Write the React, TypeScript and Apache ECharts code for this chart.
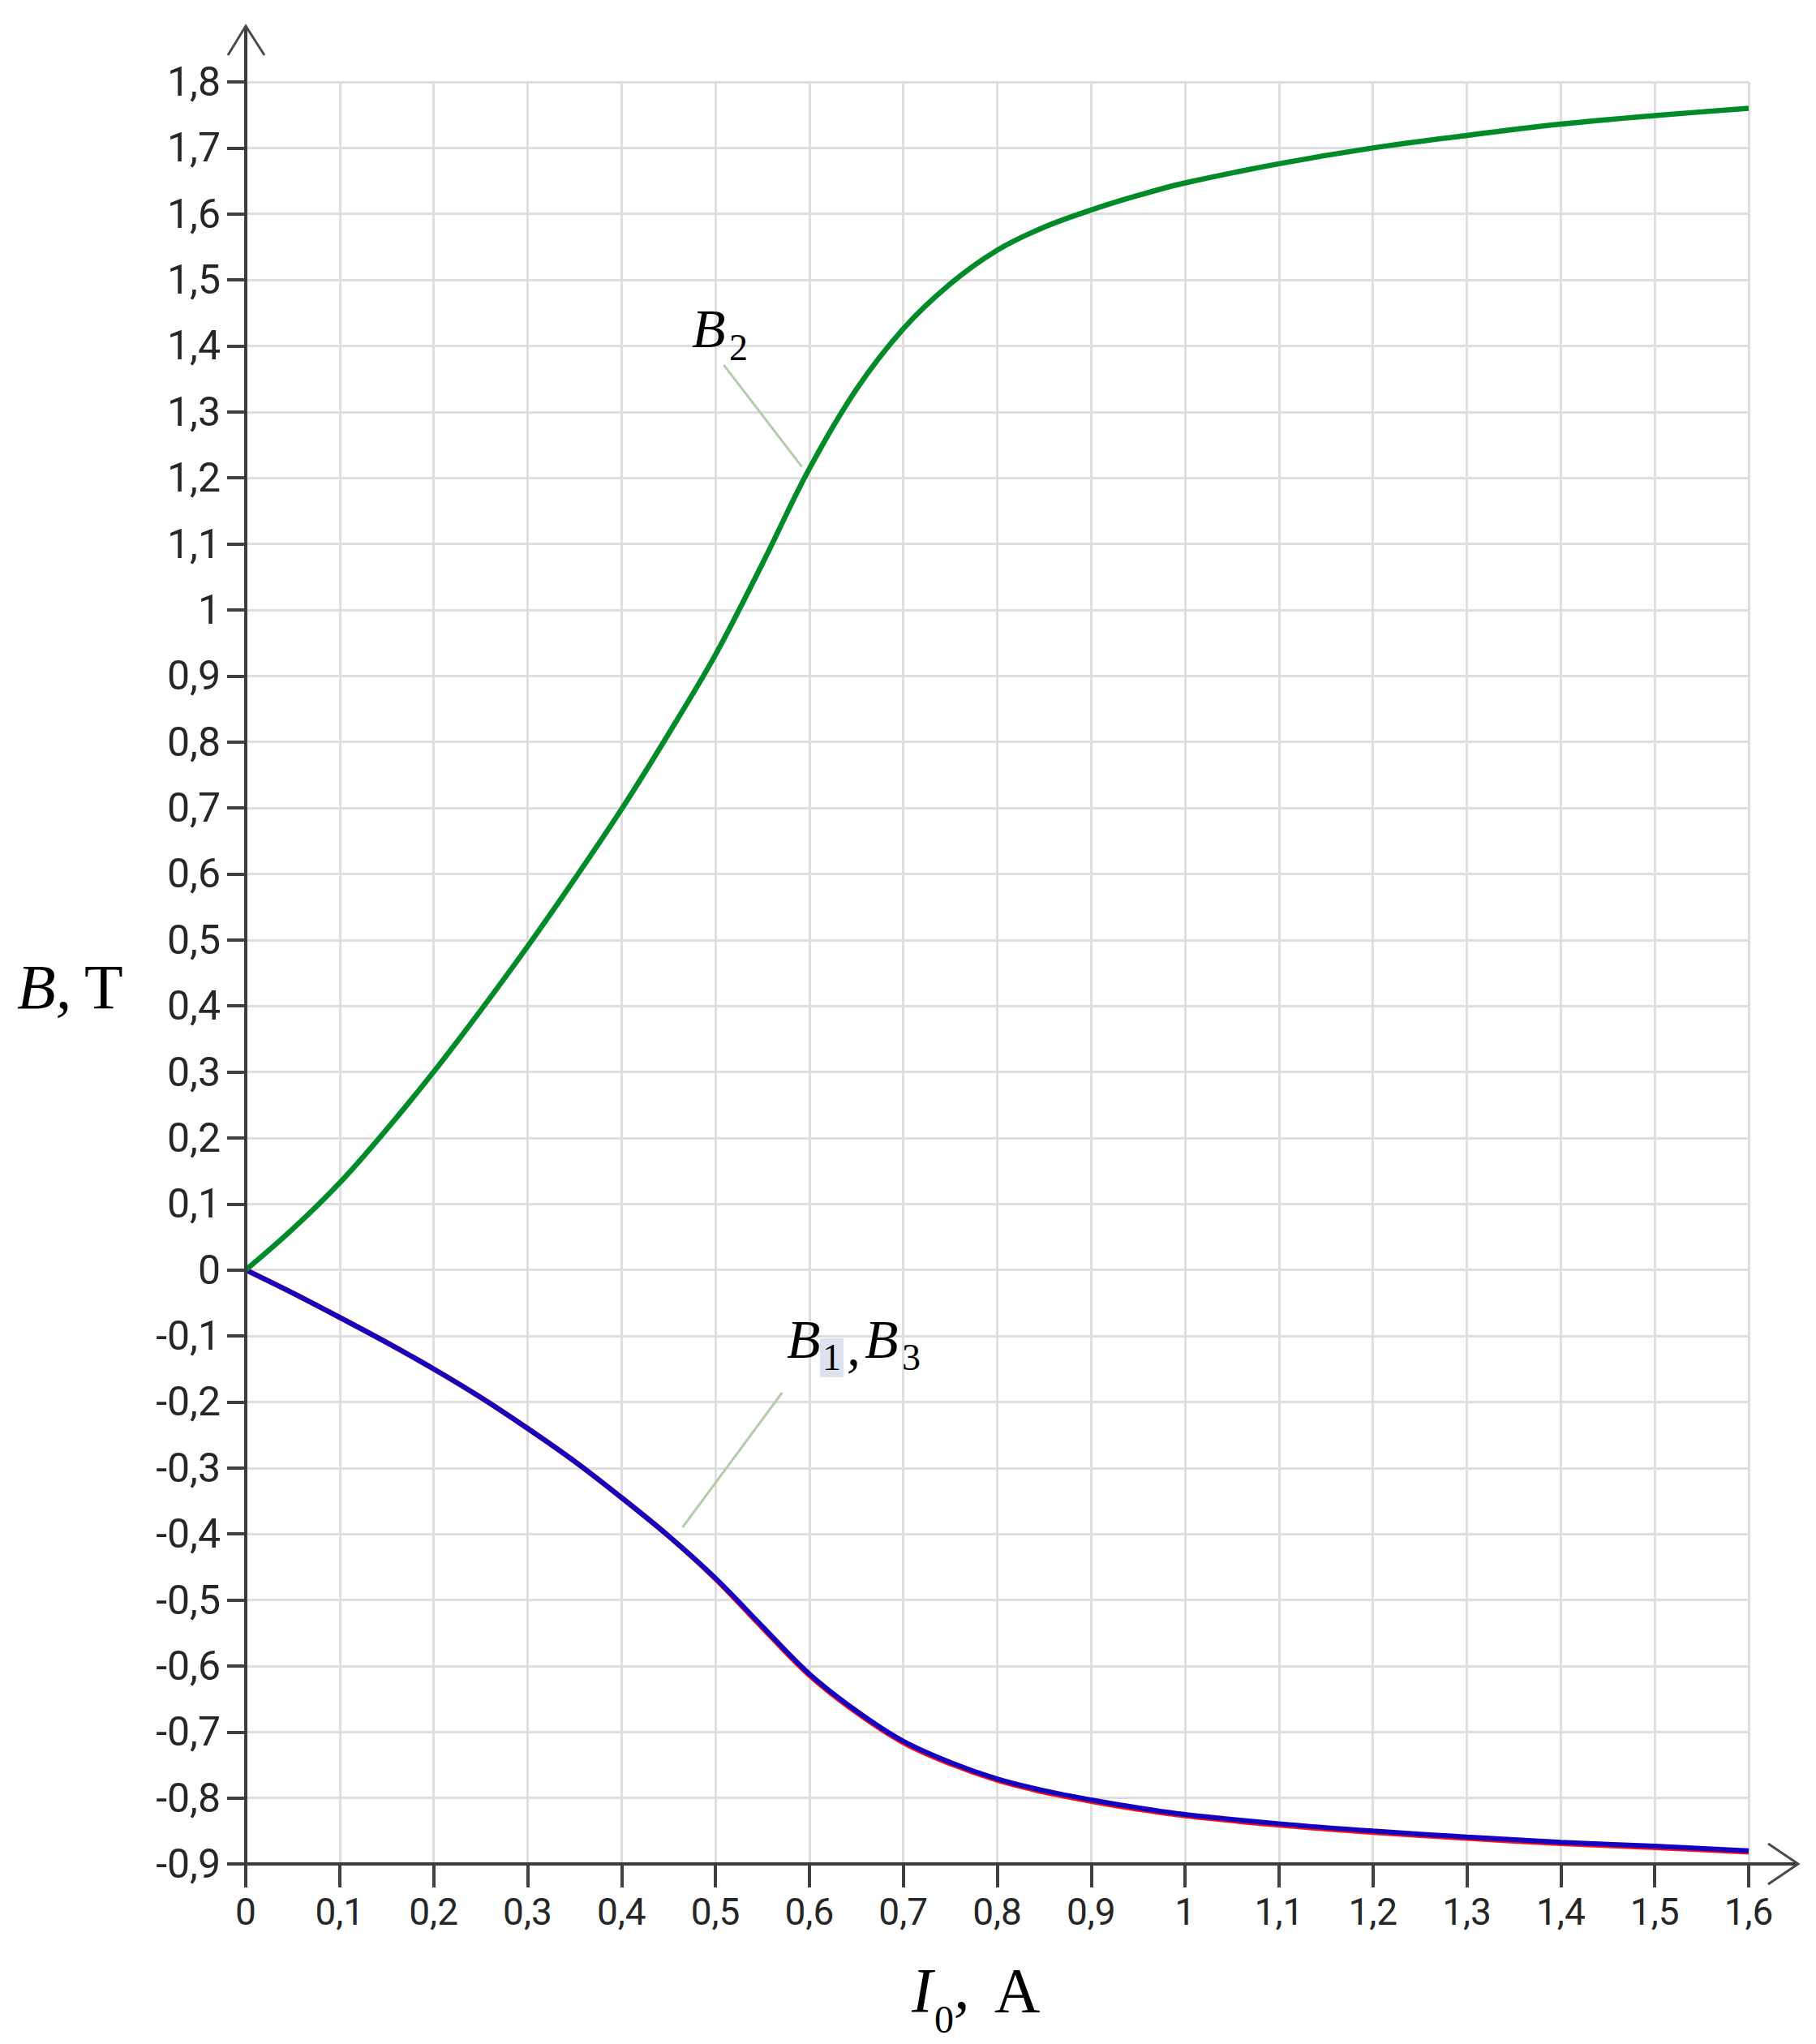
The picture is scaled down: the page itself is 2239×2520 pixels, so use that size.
import React, { useEffect, useRef } from "react";
import * as echarts from "echarts";

// Current I0, A
const currentA = [0, 0.05, 0.1, 0.15, 0.2, 0.25, 0.3, 0.35, 0.4, 0.45, 0.5, 0.55, 0.6, 0.65, 0.7, 0.75, 0.8, 0.85, 0.9, 0.95, 1.0, 1.1, 1.2, 1.3, 1.4, 1.5, 1.6];
// B2, T (green)
const b2Values = [0, 0.062, 0.132, 0.213, 0.3, 0.393, 0.49, 0.592, 0.698, 0.812, 0.932, 1.07, 1.214, 1.334, 1.426, 1.494, 1.545, 1.58, 1.606, 1.628, 1.647, 1.676, 1.7, 1.719, 1.736, 1.749, 1.76];
// B1, T (blue)
const b1Values = [0, -0.035, -0.072, -0.11, -0.15, -0.193, -0.24, -0.29, -0.345, -0.403, -0.467, -0.54, -0.612, -0.668, -0.714, -0.746, -0.771, -0.789, -0.803, -0.815, -0.825, -0.839, -0.85, -0.859, -0.867, -0.873, -0.88];
// B3, T (red)
const b3Values = [0, -0.035, -0.072, -0.11, -0.15, -0.193, -0.24, -0.29, -0.345, -0.403, -0.468, -0.542, -0.614, -0.670, -0.716, -0.748, -0.773, -0.791, -0.805, -0.817, -0.827, -0.841, -0.852, -0.861, -0.869, -0.875, -0.882];

const xMin = 0, xMax = 1.6, xStep = 0.1;
const yMin = -0.9, yMax = 1.8, yStep = 0.1;

const fmt = (v: number) => {
  const r = Math.round(v * 10) / 10;
  return String(r).replace(".", ",");
};

const pairs = (ys: number[]) => currentA.map((x, i) => [x, ys[i]]);

export default function App() {
  const ref = useRef<HTMLDivElement>(null);
  useEffect(() => {
    if (!ref.current) return;
    const chart = echarts.init(ref.current, undefined, { renderer: "svg" });
    const labelFont = "Roboto";
    const option: any = {
      animation: false,
      backgroundColor: "#ffffff",
      grid: { left: 303, right: 83, top: 101, bottom: 222, containLabel: false },
      xAxis: {
        type: "value",
        min: xMin,
        max: xMax,
        interval: xStep,
        axisLine: { show: false, onZero: false },
        axisTick: { show: true, length: 29, lineStyle: { color: "#404040", width: 4 } },
        axisLabel: {
          show: true,
          showMinLabel: true,
          showMaxLabel: true,
          margin: 36,
          formatter: fmt,
          fontFamily: labelFont,
          fontSize: 46,
          color: "#262626",
        },
        splitLine: { show: true, lineStyle: { color: "#dedede", width: 3 } },
      },
      yAxis: {
        type: "value",
        min: yMin,
        max: yMax,
        interval: yStep,
        axisLine: { show: false, onZero: false },
        axisTick: { show: true, length: 23, lineStyle: { color: "#404040", width: 4 } },
        axisLabel: {
          show: true,
          showMinLabel: true,
          showMaxLabel: true,
          margin: 31,
          formatter: fmt,
          fontFamily: labelFont,
          fontSize: 50,
          color: "#262626",
        },
        splitLine: { show: true, lineStyle: { color: "#dedede", width: 3 } },
      },
      series: [
        {
          name: "B3",
          type: "line",
          data: pairs(b3Values),
          smooth: 0.35,
          symbol: "none",
          lineStyle: { color: "#ff1010", width: 6.5 },
          z: 3,
        },
        {
          name: "B1",
          type: "line",
          data: pairs(b1Values),
          smooth: 0.35,
          symbol: "none",
          lineStyle: { color: "#1400c0", width: 6 },
          z: 4,
        },
        {
          name: "B2",
          type: "line",
          data: pairs(b2Values),
          smooth: 0.35,
          symbol: "none",
          lineStyle: { color: "#008a28", width: 6.5 },
          z: 5,
        },
      ],
    };
    chart.setOption(option);

    const p = (x: number, y: number) => chart.convertToPixel({ gridIndex: 0 }, [x, y]) as number[];
    const o = p(xMin, yMin);
    const xe = p(xMax, yMin);
    const yt = p(xMin, yMax);
    const axisColor = "#3c3c3c";
    const ax = { stroke: axisColor, lineWidth: 4 };
    const arw = { stroke: "#4a4a4a", lineWidth: 3 };
    const xTip = xe[0] + 61;
    const yTip = yt[1] - 69;

    const b2a = p(0.509, 1.371);
    const b2b = p(0.592, 1.217);
    const b1a = p(0.571, -0.186);
    const b1b = p(0.465, -0.39);

    const serif = "Liberation Serif";
    const txt = (text: string, x: number, y: number, size: number, italic: boolean, extra: any = {}) => ({
      type: "text",
      x,
      y,
      z: 20,
      style: {
        text,
        fontFamily: serif,
        fontSize: size,
        fontStyle: italic ? "italic" : "normal",
        fill: "#000000",
        align: "left",
        verticalAlign: "middle",
        ...extra,
      },
    });

    chart.setOption({
      graphic: [
        // axes
        { type: "line", z: 10, shape: { x1: o[0] - 23, y1: o[1], x2: xTip, y2: o[1] }, style: ax },
        { type: "line", z: 10, shape: { x1: o[0], y1: o[1] + 29, x2: o[0], y2: yTip }, style: ax },
        // arrows
        { type: "polyline", z: 10, shape: { points: [[xTip - 37, o[1] - 25], [xTip, o[1]], [xTip - 37, o[1] + 25]] }, style: { ...arw, fill: "none" } },
        { type: "polyline", z: 10, shape: { points: [[o[0] - 22, yTip + 36], [o[0], yTip], [o[0] + 23, yTip + 36]] }, style: { ...arw, fill: "none" } },
        // axis titles
        txt("B,", 21, 1216, 78, true),
        txt("T", 104, 1216, 78, false),
        txt("I", 1124, 2453, 78, true),
        txt("0", 1152, 2489, 48, false),
        txt(",", 1176, 2449, 78, true),
        txt("A", 1226, 2453, 78, false),
        // leaders
        { type: "line", z: 8, shape: { x1: b2a[0], y1: b2a[1], x2: b2b[0], y2: b2b[1] }, style: { stroke: "#b3ccaa", lineWidth: 3 } },
        { type: "line", z: 8, shape: { x1: b1a[0], y1: b1a[1], x2: b1b[0], y2: b1b[1] }, style: { stroke: "#b3ccaa", lineWidth: 3 } },
        // B2 label
        txt("B", 853, 405, 68, true),
        txt("2", 899, 428, 46, false),
        // B1, B3 label
        { type: "rect", z: 15, shape: { x: 1011, y: 1650, width: 29, height: 48 }, style: { fill: "#dde3ee" } },
        txt("B", 970, 1651, 68, true),
        txt("1", 1014, 1673, 46, false),
        txt(",", 1044, 1660, 68, true),
        txt("B", 1066, 1651, 68, true),
        txt("3", 1112, 1673, 46, false),
      ],
    });

    return () => chart.dispose();
  }, []);
  return (
    <div
      ref={ref}
      style={{ position: "fixed", left: 0, top: 0, width: 2239, height: 2520, background: "#ffffff" }}
    />
  );
}
